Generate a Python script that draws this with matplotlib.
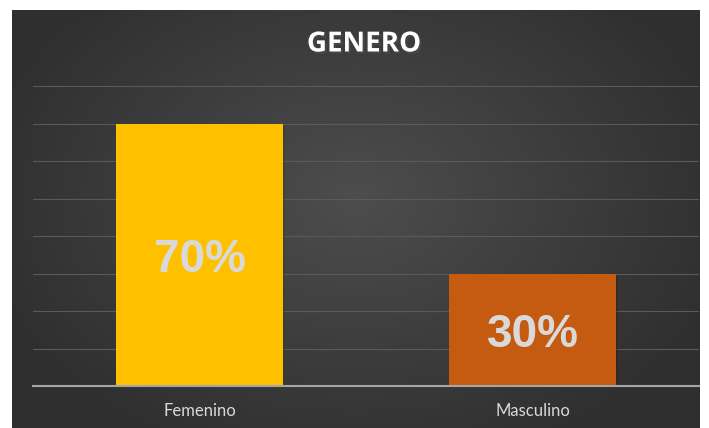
import numpy as np
import matplotlib.pyplot as plt
import matplotlib.patheffects as pe
from matplotlib.colors import LinearSegmentedColormap

categories = ["Femenino", "Masculino"]
values = [70, 30]
labels = ["70%", "30%"]
colors = ["#FFC000", "#C55A11"]

fig = plt.figure(figsize=(7.09, 4.28), dpi=100)
fig.patch.set_facecolor("white")

# dark panel with a soft radial glow
bg = fig.add_axes([12/709, 0, 688/709, 418/428])
bg.set_axis_off()
yy, xx = np.mgrid[0:1:300j, 0:1:500j]
r = np.sqrt(((xx - 0.5) / 0.75) ** 2 + ((yy - 0.45) / 0.9) ** 2)
cmap = LinearSegmentedColormap.from_list("bg", ["#4d4d4d", "#2f2f2f"])
bg.imshow(r, cmap=cmap, aspect="auto", extent=[0, 1, 0, 1], vmin=0, vmax=0.75)

ax = fig.add_axes([33/709, 42/428, 666/709, 300/428])
ax.patch.set_alpha(0)
x = np.arange(len(categories))
ax.bar(x, values, width=0.5, color=colors, zorder=3,
       path_effects=[pe.SimplePatchShadow(offset=(1.5, -1.5), alpha=0.4), pe.Normal()])
ax.set_xlim(-0.5, 1.5)
ax.set_ylim(0, 80)
ax.set_yticks(np.arange(10, 81, 10))
ax.yaxis.grid(True, color="#5a5a5a", linewidth=0.8, zorder=0)
ax.tick_params(axis="y", left=False, labelleft=False)
ax.tick_params(axis="x", bottom=False, pad=9)
ax.set_xticks(x, categories, color="#d9d9d9", fontsize=12, family="Lato")
for s in ["top", "right", "left"]:
    ax.spines[s].set_visible(False)
ax.spines["bottom"].set_color("#a6a6a6")
ax.spines["bottom"].set_linewidth(1.5)
ax.spines["bottom"].set_zorder(4)

for xi, v, lab in zip(x, values, labels):
    ax.annotate(lab, (xi, v / 2), xytext=(0, -4), textcoords="offset points",
                ha="center", va="center", color="#d9d9d9",
                fontsize=33, fontweight="bold", family="Liberation Sans", zorder=5)

fig.text(364/709, 1 - 44/428, "GENERO", ha="center", va="center",
         color="white", fontsize=20, fontweight="bold", family="Open Sans",
         path_effects=[pe.withSimplePatchShadow(offset=(1.5, -1.5), alpha=0.6)])

fig.savefig("out.png", dpi=100)
